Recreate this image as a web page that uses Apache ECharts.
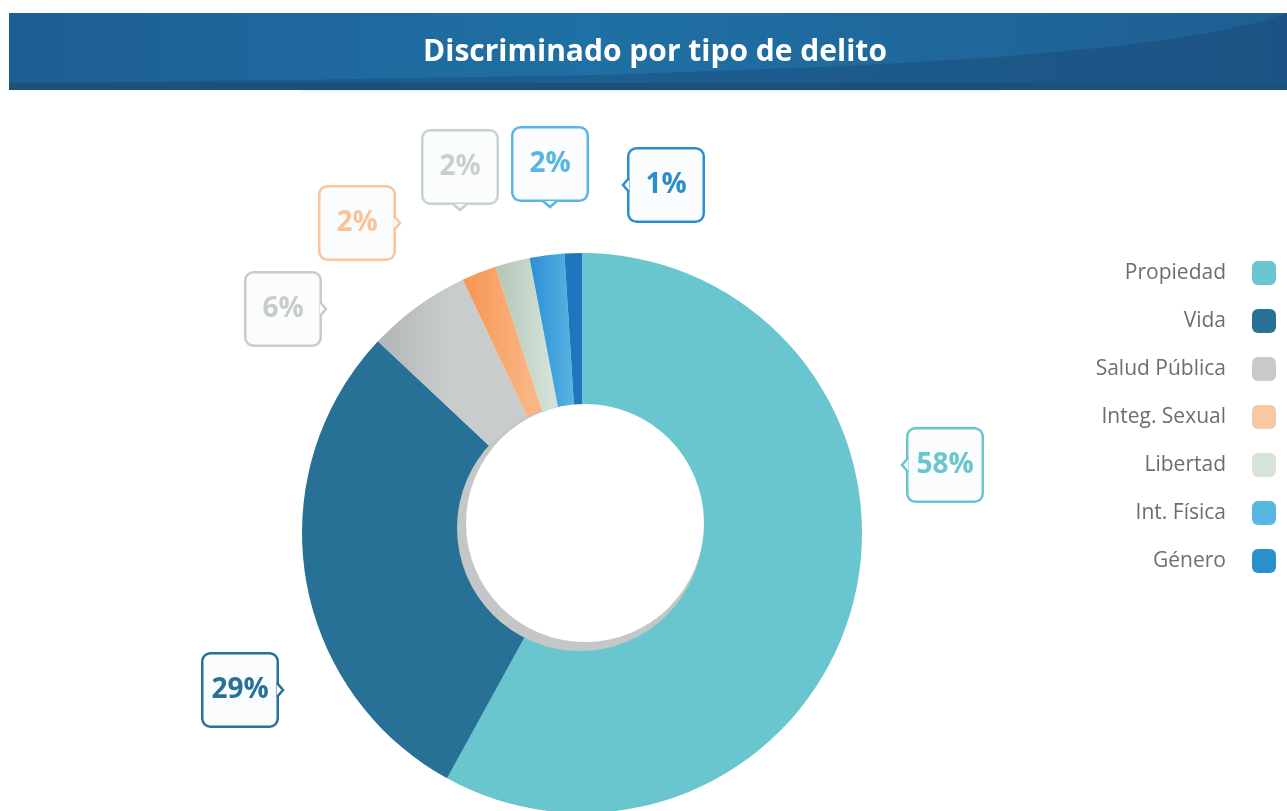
<!DOCTYPE html>
<html>
<head>
<meta charset="utf-8">
<script src="https://cdn.jsdelivr.net/npm/echarts@6/dist/echarts.min.js"></script>
<style>
  html, body { margin: 0; padding: 0; background: #fff; }
  #main { width: 1287px; height: 811px; }
</style>
</head>
<body>
<div id="main"></div>
<script>
// datos
var categorias = ["Propiedad", "Vida", "Salud Pública", "Integ. Sexual", "Libertad", "Int. Física", "Género"];
var valores = [58, 29, 6, 2, 2, 2, 1];
var coloresPorcion = ["#6AC6CE", "#277197", "#C8CBCC", "#F9A66C", "#C4D5C8", "#45A6DE", "#1E77BE"];
var coloresLeyenda = ["#6AC6CE", "#277197", "#C8CBCC", "#FAC8A0", "#D6E3D9", "#58B6E2", "#2890CF"];
var coloresEtiqueta = ["#6AC6CE", "#277197", "#C8CBCC", "#FAC49A", "#C6D3C8", "#58B6E2", "#2A8FCE"];

// donde van los cuadritos de porcentaje y su piquito
var posEtiquetas = [[945, 465], [240, 690], [283, 309], [357, 223], [460, 167], [550, 164], [666, 185]];
var piquitos = [[907, 465, "izq"], [278, 690, "der"], [321, 309, "der"], [395, 223, "der"], [460, 205, "abajo"], [550, 202, "abajo"], [628, 185, "izq"]];

// sombreado de las porciones chicas [x0, x1, oscuro, claro]
var sombras = { 2: [380, 450, "#B2B6B7", "#C9CCCD"], 3: [462, 530, "#F7954F", "#FAB585"], 4: [497, 550, "#B3C7B8", "#D4E1D7"], 5: [530, 575, "#2E8ED4", "#58B6E3"] };

var myChart = echarts.init(document.getElementById("main"));

var datos = categorias.map(function (c, i) {
  var color = coloresPorcion[i];
  var s = sombras[i];
  if (s) {
    color = new echarts.graphic.LinearGradient(s[0], 0, s[1], 0, [
      { offset: 0, color: s[2] },
      { offset: 1, color: s[3] }
    ], true);
  }
  return {
    name: c,
    value: valores[i],
    itemStyle: { color: color },
    label: { color: coloresEtiqueta[i], borderColor: coloresEtiqueta[i] }
  };
});

function piquito(p, color) {
  var x = p[0], y = p[1], pts;
  if (p[2] === "izq") pts = [[x + 1, y - 7], [x - 5, y], [x + 1, y + 7]];
  else if (p[2] === "der") pts = [[x - 1, y - 7], [x + 5, y], [x - 1, y + 7]];
  else pts = [[x - 7, y - 1], [x, y + 5], [x + 7, y - 1]];
  return [
    { type: "polygon", z: 200, shape: { points: pts }, style: { fill: "#FBFCFD", stroke: null } },
    { type: "polyline", z: 201, shape: { points: pts }, style: { stroke: color, lineWidth: 2.5, fill: null } }
  ];
}

// curva del encabezado (solo decoracion)
var curva = [[9, 83], [300, 80], [600, 75], [850, 66], [1000, 57], [1120, 46], [1210, 33], [1260, 22], [1287, 13], [1287, 83]];

var graficos = [
  {
    type: "rect",
    z: 1,
    shape: { x: 9, y: 13, width: 1278, height: 77 },
    style: {
      fill: new echarts.graphic.LinearGradient(0, 0, 1, 0, [
        { offset: 0, color: "#1D5E94" },
        { offset: 0.45, color: "#1F70A4" },
        { offset: 1, color: "#1F5F92" }
      ])
    }
  },
  { type: "polygon", z: 2, shape: { points: curva }, style: { fill: "rgba(22,55,100,0.30)" } },
  { type: "rect", z: 3, shape: { x: 9, y: 83, width: 1278, height: 7 }, style: { fill: "#1B5078" } },
  {
    type: "rect",
    z: 0,
    shape: { x: 300, y: 90, width: 700, height: 4 },
    style: {
      fill: new echarts.graphic.LinearGradient(0, 0, 0, 1, [
        { offset: 0, color: "rgba(0,0,0,0.06)" },
        { offset: 1, color: "rgba(0,0,0,0)" }
      ])
    }
  },
  // agujero del donut
  { type: "circle", z: 100, shape: { cx: 580, cy: 528, r: 123 }, style: { fill: "#C4C7C8" } },
  { type: "circle", z: 101, shape: { cx: 585, cy: 523, r: 119 }, style: { fill: "#fff" } }
];
piquitos.forEach(function (p, i) {
  graficos = graficos.concat(piquito(p, coloresEtiqueta[i]));
});

var option = {
  backgroundColor: "#fff",
  title: {
    text: "Discriminado por tipo de delito",
    left: 650,
    textAlign: "center",
    top: 32,
    textStyle: { color: "#fff", fontSize: 30, fontWeight: "bold", fontFamily: "Open Sans" },
    z: 20
  },
  legend: {
    orient: "vertical",
    right: 6,
    top: 256,
    align: "right",
    itemWidth: 24,
    itemHeight: 24,
    itemGap: 24,
    icon: "roundRect",
    selectedMode: false,
    textStyle: { color: "#6D6E71", fontSize: 21, fontFamily: "Open Sans", padding: [0, 21, 0, 0] },
    data: categorias.map(function (c, i) {
      return { name: c, itemStyle: { color: coloresLeyenda[i] } };
    })
  },
  graphic: graficos,
  series: [
    {
      type: "pie",
      center: [582, 533],
      radius: [0, 280],
      startAngle: 90,
      clockwise: true,
      silent: true,
      data: datos,
      labelLine: { show: false },
      label: {
        show: true,
        position: "outside",
        formatter: "{d}%",
        fontFamily: "Open Sans",
        fontWeight: "bold",
        fontSize: 28,
        backgroundColor: "#FBFCFD",
        borderWidth: 2.5,
        borderRadius: 7,
        width: 73,
        height: 71,
        lineHeight: 71,
        align: "center"
      },
      labelLayout: function (params) {
        var p = posEtiquetas[params.dataIndex];
        return { x: p[0], y: p[1], align: "center", verticalAlign: "middle" };
      }
    }
  ]
};

myChart.setOption(option);
</script>
</body>
</html>
